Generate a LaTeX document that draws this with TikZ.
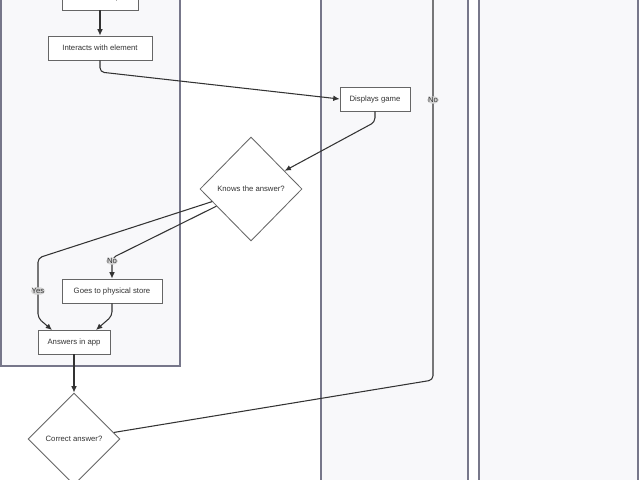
\documentclass[tikz,border=0pt]{standalone}
\usepackage{fontspec}
\setmainfont{Liberation Sans}
\usetikzlibrary{shapes.geometric,arrows.meta}
\definecolor{lanefill}{HTML}{F8F8FA}
\definecolor{laneline}{HTML}{77778A}
\definecolor{boxline}{HTML}{666666}
\definecolor{inktext}{HTML}{333333}
\definecolor{tagfill}{HTML}{D4D4D4}
\begin{document}
\begin{tikzpicture}[x=0.025cm,y=-0.025cm,
    lane/.style={draw=laneline,fill=lanefill,line width=0.8pt},
    stepbox/.style={draw=boxline,fill=white,text=inktext,line width=0.6pt,
	minimum height=0.6cm,inner sep=1pt,font=\fontsize{5.5}{6.6}\selectfont},
    choice/.style={draw=boxline,fill=white,text=inktext,line width=0.6pt,
	diamond,inner sep=0pt,font=\fontsize{5.5}{6.6}\selectfont},
    tag/.style={fill=tagfill,text=inktext,inner sep=0.6pt,
	font=\fontsize{5.5}{6.6}\selectfont},
    flow/.style={draw=inktext,line width=0.75pt,rounded corners=3pt,
	-{Latex[length=4.5pt,width=4pt]}}]
\useasboundingbox (0,0) rectangle (640,480);
\clip (0,0) rectangle (640,480);
\fill [white] (0,0) rectangle (640,480);

\draw [lane] (1,-20) rectangle (180,366);
\draw [lane] (321,-20) rectangle (468,500);
\draw [lane] (479,-20) rectangle (638,500);

\node [stepbox,minimum width=1.9cm]  (spot)      at (100,-2)  {Finds Tide spot};
\node [stepbox,minimum width=2.6cm]  (interacts) at (100,48)  {Interacts with element};
\node [stepbox,minimum width=1.75cm] (displays)  at (375,99)  {Displays game};
\node [choice,minimum width=2.55cm,minimum height=2.6cm] (knows) at (251,189) {Knows the answer?};
\node [stepbox,minimum width=2.5cm]  (store)     at (112,291) {Goes to physical store};
\node [stepbox,minimum width=1.8cm]  (answers)   at (74,342)  {Answers in app};
\node [choice,minimum width=2.3cm,minimum height=2.3cm] (correct) at (74,439) {Correct answer?};
\coordinate (loopup) at (433,-20);

\draw [flow] (spot) -- (interacts);
\draw [flow] (interacts.south) -- (100,72) -- (displays.west);
\draw [flow] (displays.south) -- (375,122) -- (knows);
\draw [flow] (knows) -- (38,258) --
    node[tag,pos=0.55] {Yes}
    (38,318) -- (52,330);
\draw [flow] (knows) -- (112,258) --
    node[tag,pos=0.15] {No}
    (store.north);
\draw [flow] (store.south) -- (112,316) -- (96,330);
\draw [flow] (answers) -- (correct);
\draw [draw=inktext,line width=0.75pt,rounded corners=3pt]
    (correct) -- (433,380) --
    node[tag,pos=0.70] {No}
    (loopup);
\end{tikzpicture}
\end{document}
